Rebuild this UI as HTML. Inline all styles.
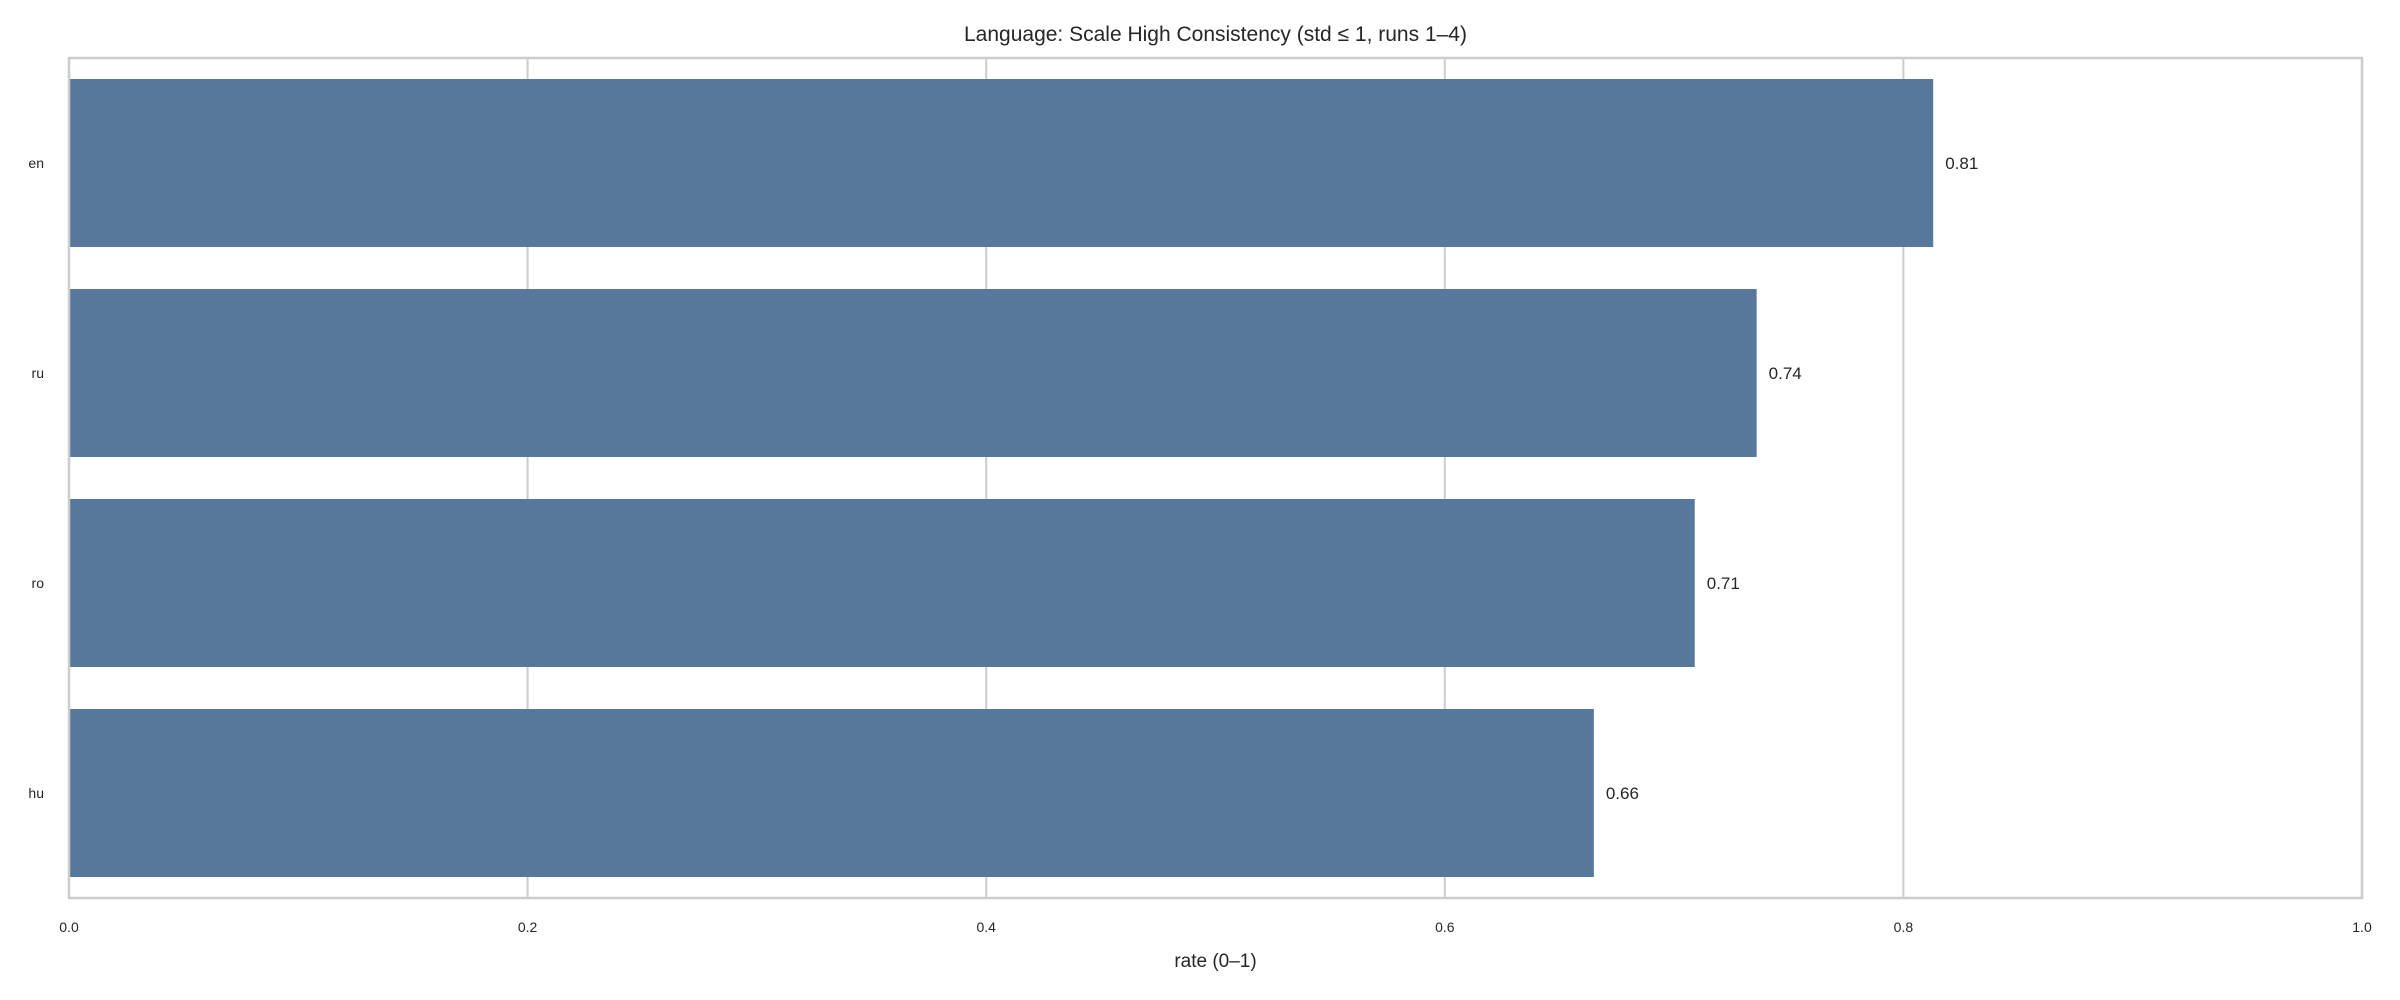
<!DOCTYPE html>
<html><head><meta charset="utf-8"><style>
html,body{margin:0;padding:0;background:#fff;}
svg{display:block;font-family:"Liberation Sans",sans-serif;}
</style></head><body>
<svg id="chart" width="2400" height="1000" viewBox="0 0 2400 1000"></svg>
<script>
const categories = ["en","ru","ro","hu"];
const values = [0.813, 0.736, 0.709, 0.665];
const valueLabels = ["0.81","0.74","0.71","0.66"];
const xTicks = [0,0.2,0.4,0.6,0.8,1.0];
const xTickLabels = ["0.0","0.2","0.4","0.6","0.8","1.0"];

const NS="http://www.w3.org/2000/svg";
const svg=document.getElementById('chart');
const L=69,R=2362,T=58,B=898;
const xs=v=>L+(R-L)*v;
const band=(B-T)/categories.length;
const yc=i=>T+band*(i+0.5);
function mk(tag,attrs,parent){const e=document.createElementNS(NS,tag);for(const k in attrs)e.setAttribute(k,attrs[k]);(parent||svg).appendChild(e);return e;}

const title=mk('text',{x:(L+R)/2,y:41,'text-anchor':'middle','font-size':21,fill:'#262626'});


title.textContent='Language: Scale High Consistency (std ≤ 1, runs 1–4)';

xTicks.forEach((t,i)=>{
  const g=mk('line',{x1:xs(t),x2:xs(t),y1:T,y2:B,stroke:'#cccccc','stroke-width':2});
  
  
  const lb=mk('text',{x:xs(t),y:B+34,'text-anchor':'middle','font-size':14,fill:'#262626'});
  
  
  lb.textContent=xTickLabels[i];
});

categories.forEach((c,i)=>{
  const h=band*0.8;
  const r=mk('rect',{x:xs(0),y:yc(i)-h/2,width:xs(values[i])-xs(0),height:h,fill:'#57789c'});
  
  
  const v=mk('text',{x:xs(values[i])+12,y:yc(i)+6,'font-size':17,fill:'#262626'});
  
  
  v.textContent=valueLabels[i];
  const yl=mk('text',{x:44,y:yc(i)+5,'text-anchor':'end','font-size':14,fill:'#262626'});
  
  
  yl.textContent=c;
});

const frame=mk('rect',{x:L,y:T,width:R-L,height:B-T,fill:'none',stroke:'#cccccc','stroke-width':2.5});



const xl=mk('text',{x:(L+R)/2,y:967,'text-anchor':'middle','font-size':19,fill:'#262626'});


xl.textContent='rate (0–1)';
</script>
</body></html>
